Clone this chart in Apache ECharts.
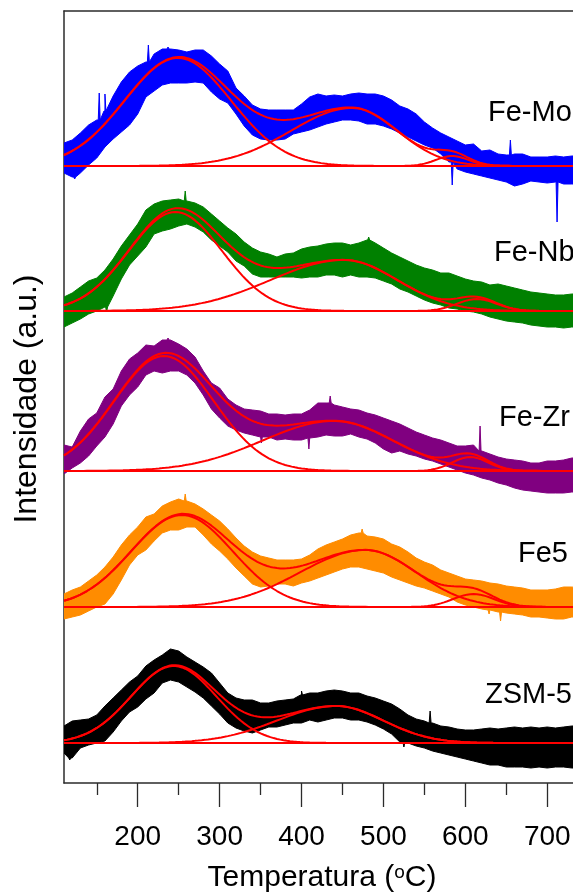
<!DOCTYPE html>
<html>
<head>
<meta charset="utf-8">
<script src="https://cdn.jsdelivr.net/npm/echarts@6/dist/echarts.min.js"></script>
<style>
  html, body { margin: 0; padding: 0; background: #ffffff; }
  #chart { width: 573px; height: 895px; }
</style>
</head>
<body>
<div id="chart"></div>
<script>
// Temperature grid (°C) on which the noisy TPD traces were read
const temps = [110,120,130,140,150,160,170,180,190,200,210,220,230,240,250,260,270,280,290,300,
  310,320,330,340,350,360,370,380,390,400,410,420,430,440,450,460,470,480,490,500,
  510,520,530,540,550,560,570,580,590,600,610,620,630,640,650,660,670,680,690,700,
  710,720,730,740];

const samples = ['Fe-Mo', 'Fe-Nb', 'Fe-Zr', 'Fe5', 'ZSM-5'];
// vertical offset of each profile (a.u.)
const baselines = [617, 472, 312, 176, 40];

// upper / lower edge of each noisy signal, relative to its own baseline (a.u.)
const feMoUpper = [23,26,33,41,46,55,70,84,94,100,104,112,117,117,116,114,116,116,110,102,
  95,78,70,61,57,56,56,56,56,62,69,72,70,71,70,72,73,72,72,70,
  66,60,57,52,44,38,33,29,25,21,22,15,16,12,11,12,12,9,9,9,10,9,10,10];
const feMoLower = [-7,-11,-7,1,8,19,27,34,41,52,69,75,81,83,83,83,84,83,74,67,
  63,52,40,31,27,26,26,27,32,34,36,39,42,44,46,46,45,42,42,40,
  37,33,29,25,21,18,12,4,-3,-6,-8,-10,-12,-14,-16,-20,-18,-15,-16,-17,-16,-18,-18,-18];

const feNbUpper = [14,18,24,30,33,41,52,65,76,87,101,107,110,111,112,110,108,104,97,90,
  83,77,69,63,59,57,54,57,58,62,64,65,67,68,68,66,68,71,68,63,
  58,54,50,46,43,41,38,38,35,32,30,29,26,27,25,23,21,19,18,17,16,16,17,17];
const feNbLower = [-16,-12,-8,-3,0,4,15,32,46,55,64,77,80,82,85,87,84,79,71,65,
  59,50,45,37,34,34,34,34,34,33,34,34,36,36,34,36,34,34,33,30,
  27,22,19,15,11,8,6,3,2,0,-1,-3,-6,-8,-10,-11,-12,-14,-15,-16,-16,-17,-16,-16];

const feZrUpper = [26,24,40,52,58,74,82,100,112,118,126,125,131,131,127,122,114,100,88,83,
  72,66,62,61,60,57,57,56,57,57,61,68,68,66,64,62,61,58,56,53,
  50,47,43,39,36,33,31,28,25,25,26,20,17,14,12,11,10,8,8,10,10,11,13,13];
const feZrLower = [-3,3,8,15,25,34,47,65,76,84,96,100,98,100,100,96,88,76,62,53,
  45,41,38,36,34,34,31,32,31,31,33,34,36,35,35,37,34,32,28,22,
  18,20,17,15,12,10,7,4,1,-2,-4,-7,-9,-12,-14,-17,-19,-20,-21,-22,-22,-22,-21,-21];

const fe5Upper = [13,17,20,26,32,40,50,62,72,80,90,93,101,105,108,106,103,98,92,86,
  78,69,61,55,51,49,47,47,47,48,52,58,62,65,68,72,74,71,70,68,
  63,60,55,49,45,42,37,34,31,28,27,26,24,23,21,20,19,17,17,17,18,20,20,19];
const fe5Lower = [-12,-10,-8,-4,0,3,13,27,42,52,57,66,74,77,77,80,80,72,63,56,
  48,39,31,23,20,21,23,23,21,24,26,29,32,35,38,40,40,38,36,34,
  30,27,24,21,19,16,13,10,5,2,0,-2,-3,-5,-6,-7,-8,-10,-10,-11,-12,-12,-10,-10];

const zsmUpper = [17,22,23,24,28,37,45,53,61,67,77,83,88,94,92,86,81,76,70,60,
  50,45,43,43,40,40,42,43,44,48,50,50,52,53,52,50,50,47,45,42,
  39,34,28,24,22,20,17,16,14,13,13,14,15,14,15,16,15,16,15,16,15,16,17,17];
const zsmLower = [-10,-15,-5,-2,0,2,11,22,31,36,44,50,60,63,61,56,51,45,37,29,
  20,15,12,10,13,16,16,18,20,20,23,21,23,25,25,23,23,21,18,14,
  9,1,0,-3,-5,-8,-10,-12,-14,-16,-18,-20,-22,-22,-24,-24,-24,-25,-24,-25,-24,-24,-25,-25];

// isolated noise spikes: [temperature, value]
const feMoSpikes = [[123,-13],[153,73],[160,72],[213,121],[237,119],[584,-19],[655,26],[712,-56]];
const feNbSpikes = [[162,-1],[258,120],[482,74]];
const feZrSpikes = [[237,133],[351,28],[409,22],[435,75],[618,45]];
const fe5Spikes = [[258,113],[474,78],[629,-7],[643,-14]];
const zsmSpikes = [[117,-17],[400,52],[525,-4],[557,32]];

// fitted components: [centre (°C), height, width left, width right]
const feMoPeaks = [[249,108,65,65],[462,58,75,55],[584,10,20,20]];
const feNbPeaks = [[246,99,57,57],[452,51,90,65],[614,12,24,24]];
const feZrPeaks = [[232,115,61,61],[440,50,88,72],[606,14,22,22]];
const fe5Peaks = [[254,92,62,62],[478,57,80,62],[610,13,25,25]];
const zsmPeaks = [[244,77,52,52],[442,37,72,58]];

// axis ticks
const majorTicks = [200,300,400,500,600,700];
const minorTicks = [150,250,350,450,550,650];

const colors = ['#0000ff', '#008000', '#800080', '#ff8c00', '#000000'];
const FONT = '"Liberation Sans", Arial, Helvetica, sans-serif';
const T_MIN = 110, T_MAX = 740;

const traces = [
  { upper: feMoUpper, lower: feMoLower, spikes: feMoSpikes, peaks: feMoPeaks },
  { upper: feNbUpper, lower: feNbLower, spikes: feNbSpikes, peaks: feNbPeaks },
  { upper: feZrUpper, lower: feZrLower, spikes: feZrSpikes, peaks: feZrPeaks },
  { upper: fe5Upper,  lower: fe5Lower,  spikes: fe5Spikes,  peaks: fe5Peaks },
  { upper: zsmUpper,  lower: zsmLower,  spikes: zsmSpikes,  peaks: zsmPeaks }
];

function nearestIndex(t) {
  let best = 0;
  temps.forEach((v, i) => { if (Math.abs(v - t) < Math.abs(temps[best] - t)) best = i; });
  return best;
}

// one edge of the noise band, with the spikes that poke out of it
function edgePoints(vals, spikes, isUpper) {
  const pts = temps.map((t, i) => [t, vals[i]]);
  spikes.forEach(([t, v]) => {
    const base = vals[nearestIndex(t)];
    if (isUpper ? v > base : v < base) {
      pts.push([t - 1.2, base], [t, v], [t + 1.2, base]);
    }
  });
  return pts.sort((a, b) => a[0] - b[0]);
}

function peakAt(p, t) {
  const [c, h, wl, wr] = p;
  const w = t < c ? wl : wr;
  return h * Math.exp(-((t - c) * (t - c)) / (2 * w * w));
}

const fitTemps = [];
for (let t = T_MIN; t <= T_MAX; t += 2) fitTemps.push(t);

const series = [];
const RED = '#ff0000';

traces.forEach((tr, k) => {
  const off = baselines[k];
  const color = colors[k];
  const up = edgePoints(tr.upper, tr.spikes, true);
  const lo = edgePoints(tr.lower, tr.spikes, false).reverse();
  const outline = up.concat(lo);

  series.push({
    type: 'custom',
    name: samples[k],
    coordinateSystem: 'cartesian2d',
    xAxisIndex: 0,
    yAxisIndex: 0,
    clip: true,
    silent: true,
    z: 1,
    data: [[T_MIN, off]],
    renderItem: (params, api) => ({
      type: 'polygon',
      shape: { points: outline.map(p => api.coord([p[0], off + p[1]])) },
      style: { fill: color, stroke: color, lineWidth: 1 }
    })
  });

  const redLine = (data) => ({
    type: 'line',
    xAxisIndex: 0,
    yAxisIndex: 0,
    data: data,
    symbol: 'none',
    silent: true,
    z: 3,
    lineStyle: { color: RED, width: 2 },
    clip: true
  });

  // baseline
  series.push(redLine([[T_MIN, off], [T_MAX, off]]));
  // individual components
  tr.peaks.forEach(p => {
    series.push(redLine(fitTemps.map(t => [t, off + peakAt(p, t)])));
  });
  // envelope of the fit
  series.push(redLine(fitTemps.map(t => [t, off + tr.peaks.reduce((s, p) => s + peakAt(p, t), 0)])));
});

const frameLine = { show: true, lineStyle: { color: '#2b2b2b', width: 1.5 } };

const labelPos = [[488, 113], [494, 253], [499, 418], [518, 554], [485, 695]];

const option = {
  animation: false,
  backgroundColor: '#ffffff',
  grid: { left: 64, right: -7, top: 11, bottom: 112, containLabel: false, outerBoundsMode: 'none' },
  xAxis: [
    {
      type: 'value', min: T_MIN, max: T_MAX, position: 'bottom',
      axisLine: frameLine,
      axisTick: { show: true, length: 24, customValues: majorTicks, lineStyle: { color: '#2b2b2b', width: 1.3 } },
      axisLabel: { show: true, customValues: majorTicks, margin: 40, fontSize: 28, fontFamily: FONT, color: '#000' },
      splitLine: { show: false },
      name: 'Temperatura ({sup|o}C)',
      nameLocation: 'middle',
      nameGap: 80,
      nameTextStyle: {
        fontSize: 30, fontFamily: FONT, color: '#000',
        rich: { sup: { fontSize: 19, fontFamily: FONT, color: '#000', verticalAlign: 'top' } }
      }
    },
    {
      type: 'value', min: T_MIN, max: T_MAX, position: 'bottom',
      axisLine: { show: false },
      axisTick: { show: true, length: 12, customValues: minorTicks, lineStyle: { color: '#2b2b2b', width: 1.3 } },
      axisLabel: { show: false },
      splitLine: { show: false }
    },
    {
      type: 'value', min: T_MIN, max: T_MAX, position: 'top',
      axisLine: frameLine,
      axisTick: { show: false },
      axisLabel: { show: false },
      splitLine: { show: false }
    }
  ],
  yAxis: {
    type: 'value', min: 0, max: 772, position: 'left',
    axisLine: frameLine,
    axisTick: { show: false },
    axisLabel: { show: false },
    splitLine: { show: false }
  },
  graphic: [
    {
      type: 'text', x: 27, y: 399, rotation: Math.PI / 2,
      style: { text: 'Intensidade (a.u.)', fontSize: 32, fontFamily: FONT, fill: '#000', align: 'center', verticalAlign: 'middle' }
    }
  ].concat(samples.map((s, k) => ({
    type: 'text', x: labelPos[k][0], y: labelPos[k][1],
    style: { text: s, fontSize: 29, fontFamily: FONT, fill: '#000', align: 'left', verticalAlign: 'middle' }
  }))),
  series: series
};

const chart = echarts.init(document.getElementById('chart'), null, { renderer: 'canvas' });
chart.setOption(option);
</script>
</body>
</html>
